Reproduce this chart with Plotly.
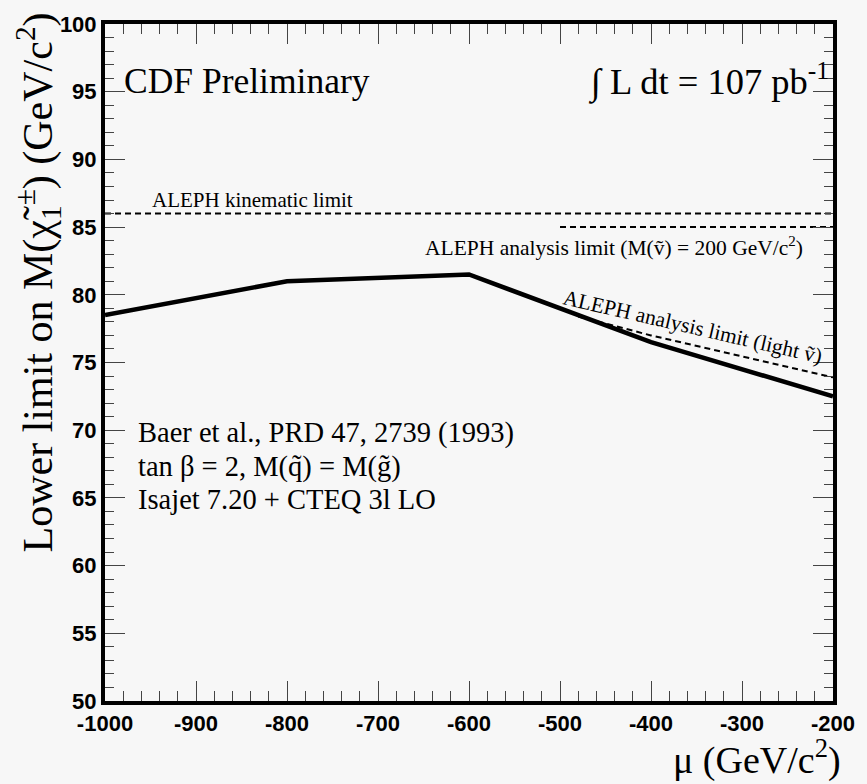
import plotly.graph_objects as go

# Data
mu_limit = [-1000, -800, -600, -400, -200]
m_limit = [78.5, 81.0, 81.5, 76.5, 72.5]

mu_kin = [-1000, -200]
m_kin = [86.0, 86.0]

mu_ana = [-500, -200]
m_ana = [85.0, 85.0]

mu_light = [-480, -400, -200]
m_light = [78.4, 77.0, 73.9]

x_ticks = [-1000, -900, -800, -700, -600, -500, -400, -300, -200]
y_ticks = [50, 55, 60, 65, 70, 75, 80, 85, 90, 95, 100]

BG = "#f7f7f7"
SERIF = "Liberation Serif, Times New Roman, serif"
SANS = "Liberation Sans, Arial, sans-serif"

fig = go.Figure()
fig.add_trace(go.Scatter(x=mu_limit, y=m_limit, mode="lines",
                         line=dict(color="black", width=4.5), showlegend=False))
fig.add_trace(go.Scatter(x=mu_kin, y=m_kin, mode="lines",
                         line=dict(color="black", width=2, dash="6px,4px"), showlegend=False))
fig.add_trace(go.Scatter(x=mu_ana, y=m_ana, mode="lines",
                         line=dict(color="black", width=2, dash="6px,4px"), showlegend=False))
fig.add_trace(go.Scatter(x=mu_light, y=m_light, mode="lines",
                         line=dict(color="black", width=2, dash="6px,4px"), showlegend=False))

ann = []
ann.append(dict(x=-981, y=95.8, xref="x", yref="y", text="CDF Preliminary",
                xanchor="left", yanchor="middle", showarrow=False,
                font=dict(family=SERIF, size=35.5, color="black")))
ann.append(dict(x=-202, y=95.9, xref="x", yref="y", text="∫ L dt = 107 pb<sup>-1</sup>",
                xanchor="right", yanchor="middle", showarrow=False,
                font=dict(family=SERIF, size=36.5, color="black")))
ann.append(dict(x=-951, y=87.0, xref="x", yref="y", text="ALEPH kinematic limit",
                xanchor="left", yanchor="middle", showarrow=False,
                font=dict(family=SERIF, size=21, color="black")))
ann.append(dict(x=-441, y=83.6, xref="x", yref="y",
                text="ALEPH analysis limit (M(ṽ) = 200 GeV/c<sup>2</sup>)",
                xanchor="center", yanchor="middle", showarrow=False,
                font=dict(family=SERIF, size=21.5, color="black")))
ann.append(dict(x=-354, y=77.6, xref="x", yref="y",
                text="ALEPH analysis limit (light ṽ)", textangle=13,
                xanchor="center", yanchor="middle", showarrow=False,
                font=dict(family=SERIF, size=21.5, color="black")))
for txt, yy in [("Baer et al., PRD 47, 2739 (1993)", 69.8),
                ("tan β = 2, M(q̃) = M(g̃)", 67.3),
                ("Isajet 7.20 + CTEQ 3l LO", 64.9)]:
    ann.append(dict(x=-966, y=yy, xref="x", yref="y", text=txt,
                    xanchor="left", yanchor="middle", showarrow=False,
                    font=dict(family=SERIF, size=28.5, color="black")))

# axis titles
ann.append(dict(x=-0.092, y=1.02, xref="paper", yref="paper",
                text="Lower limit on M(χ̃<sub>1</sub><sup>±</sup>) (GeV/c<sup>2</sup>)",
                textangle=-90, xanchor="center", yanchor="top", showarrow=False,
                font=dict(family=SERIF, size=42, color="black")))
ann.append(dict(x=1.012, y=-0.1215, xref="paper", yref="paper",
                text="μ (GeV/c<sup>2</sup>)", borderpad=0,
                xanchor="right", yanchor="bottom", showarrow=False,
                font=dict(family=SERIF, size=38, color="black")))

fig.update_layout(
    width=867, height=784,
    margin=dict(l=105, r=25, t=14, b=83),
    paper_bgcolor=BG, plot_bgcolor=BG,
    annotations=ann,
    showlegend=False,
)
fig.update_xaxes(
    range=[-1000, -200], tickvals=x_ticks, ticktext=[str(v) for v in x_ticks],
    showgrid=False, zeroline=False,
    showline=True, linecolor="black", linewidth=4, mirror="allticks",
    ticks="inside", ticklen=20, tickwidth=1, tickcolor="#444",
    minor=dict(dtick=20, tick0=-1000, ticks="inside", ticklen=10, tickwidth=1, tickcolor="#444"),
    tickfont=dict(family=SANS, size=22, color="black", weight="bold"),
)
fig.update_yaxes(
    range=[50, 100], tickvals=y_ticks, ticktext=[str(v) for v in y_ticks],
    showgrid=False, zeroline=False,
    showline=True, linecolor="black", linewidth=4, mirror="allticks",
    ticks="inside", ticklen=20, tickwidth=1, tickcolor="#444",
    minor=dict(dtick=1, tick0=50, ticks="inside", ticklen=9, tickwidth=1, tickcolor="#444"),
    tickfont=dict(family=SANS, size=22, color="black", weight="bold"),
)

fig.write_html("out.html")
